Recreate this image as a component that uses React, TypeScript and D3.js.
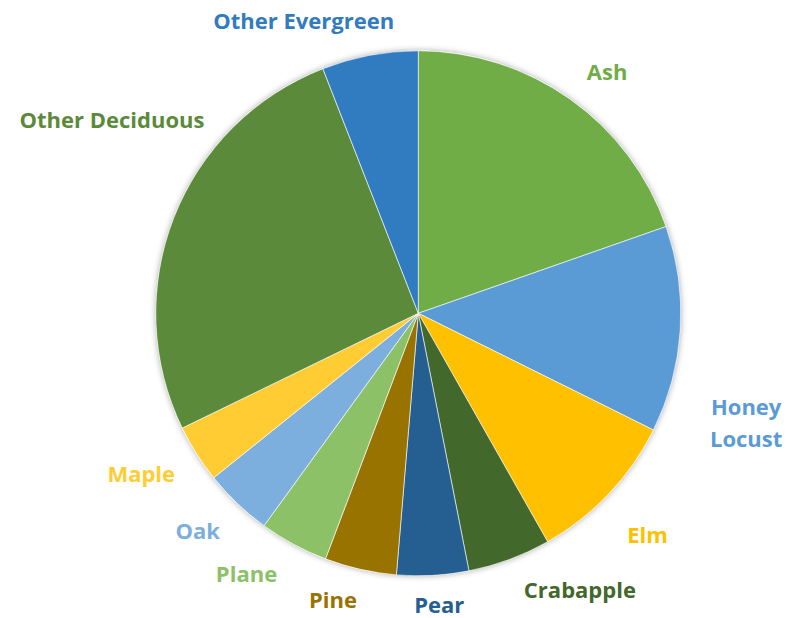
import React from "react";
import * as d3 from "d3";

const categories = [
  "Ash",
  "Honey Locust",
  "Elm",
  "Crabapple",
  "Pear",
  "Pine",
  "Plane",
  "Oak",
  "Maple",
  "Other Deciduous",
  "Other Evergreen",
];
const shares = [19.64, 12.69, 9.47, 5.11, 4.42, 4.42, 4.25, 4.22, 3.58, 26.28, 5.92];
const colors = [
  "#70AD47",
  "#5B9BD5",
  "#FFC000",
  "#43682B",
  "#255E91",
  "#997300",
  "#8CC168",
  "#7CAFDD",
  "#FFCD33",
  "#5B8A3B",
  "#317BC1",
];
// label placement: [angle in degrees clockwise from top, distance as multiple of radius]
const labelPolar: [number, number][] = [
  [38.0, 1.168],
  [108.5, 1.317],
  [134.0, 1.214],
  [149.7, 1.22],
  [175.9, 1.113],
  [196.6, 1.139],
  [213.4, 1.189],
  [225.4, 1.18],
  [239.9, 1.22],
  [-57.8, 1.379],
  [-21.4, 1.197],
];

const W = 798;
const H = 618;

export default function App() {
  const cx = 418.3;
  const cy = 313.3;
  const R = 262.5;
  const pie = d3
    .pie<number>()
    .sort(null)
    .value((d) => d);
  const arcs = pie(shares);
  const arc = d3.arc<d3.PieArcDatum<number>>().innerRadius(0).outerRadius(R);
  const fontSize = 22;
  const lineH = 32;
  return (
    <svg
      width={W}
      height={H}
      style={{ position: "absolute", left: 0, top: 0, background: "#fff" }}
    >
      <defs>
        <filter id="sh" x="-20%" y="-20%" width="140%" height="140%">
          <feDropShadow dx="0" dy="0" stdDeviation="3" floodColor="#000" floodOpacity="0.35" />
        </filter>
      </defs>
      <g transform={`translate(${cx},${cy})`}>
        <circle r={R} fill="#fff" filter="url(#sh)" />
        {arcs.map((a, i) => (
          <path key={i} d={arc(a) || ""} fill={colors[i]} stroke="#fff" strokeWidth={0.6} />
        ))}
        {categories.map((c, i) => {
          const [deg, k] = labelPolar[i];
          const t = (deg * Math.PI) / 180;
          const x = Math.sin(t) * R * k;
          const y = -Math.cos(t) * R * k;
          const words = c === "Honey Locust" ? ["Honey", "Locust"] : [c];
          const y0 = y - ((words.length - 1) * lineH) / 2;
          return (
            <text
              key={c}
              textAnchor="middle"
              fontFamily="'Open Sans', sans-serif"
              fontWeight={700}
              fontSize={fontSize}
              fill={colors[i]}
            >
              {words.map((w, j) => (
                <tspan key={w} x={x} y={y0 + j * lineH} dy="0.36em">
                  {w}
                </tspan>
              ))}
            </text>
          );
        })}
      </g>
    </svg>
  );
}
